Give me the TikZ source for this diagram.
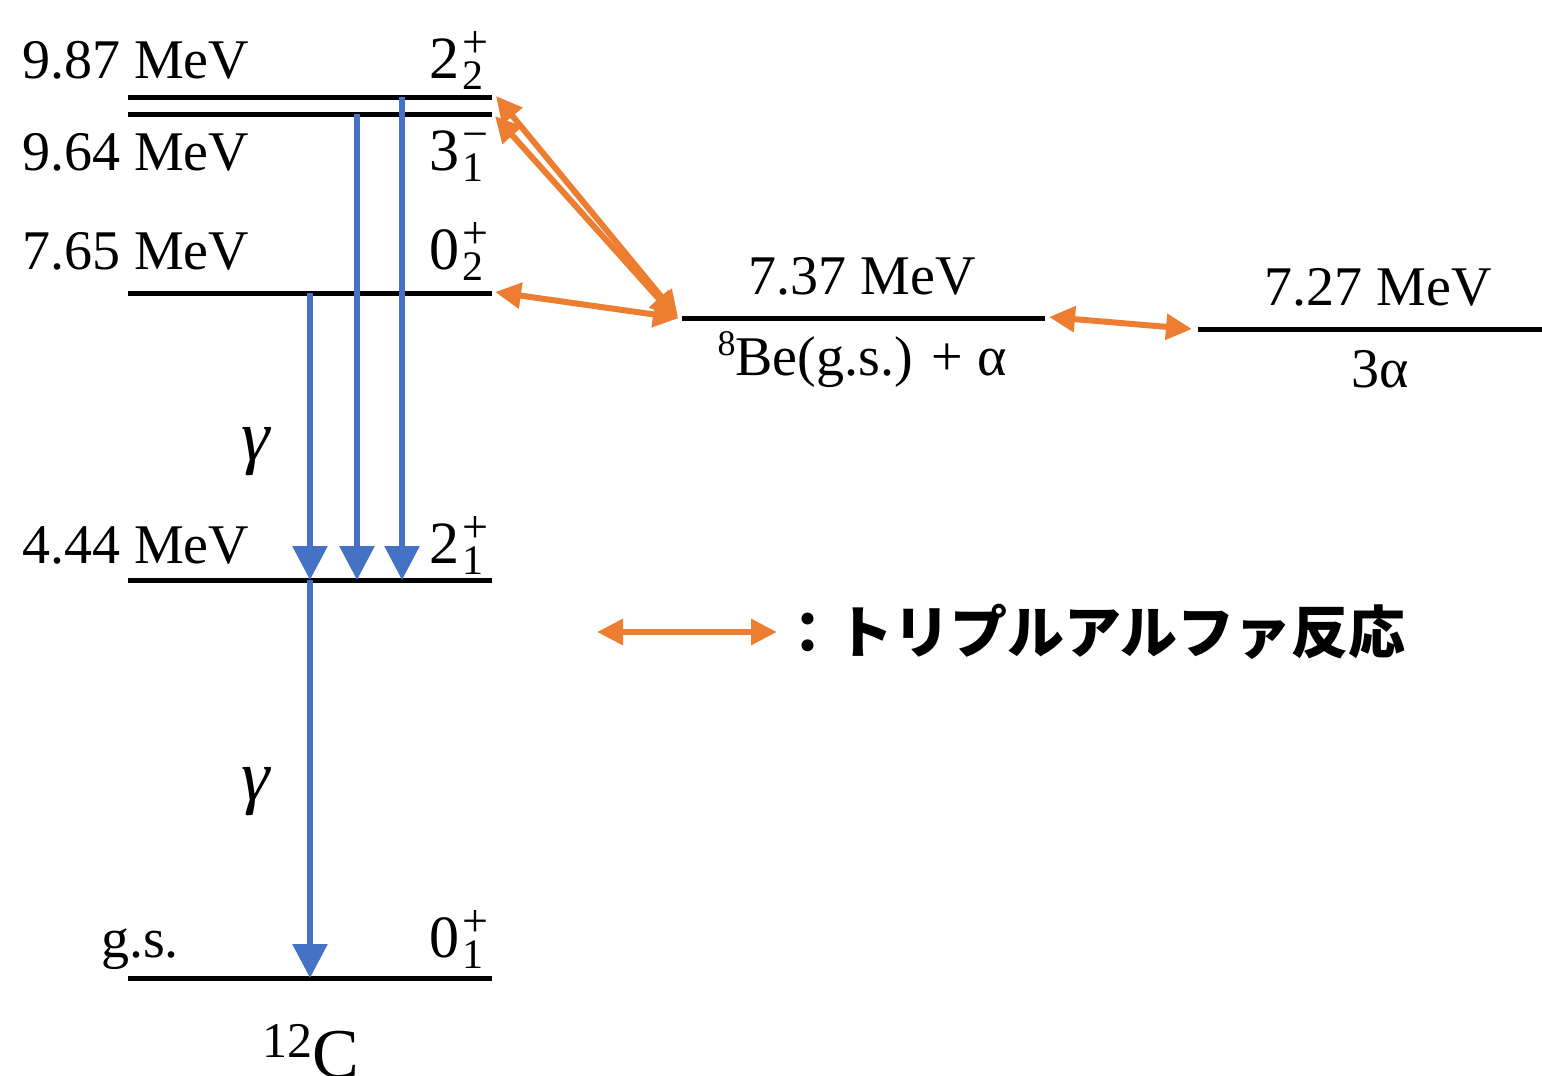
\documentclass[tikz,border=0pt]{standalone}
\usepackage{fontspec}
\setmainfont{Liberation Serif}
\newfontfamily\jpfont{Noto Sans CJK JP}
\usetikzlibrary{arrows.meta}
\definecolor{lvlblue}{HTML}{4472C4}
\definecolor{lvlorange}{HTML}{ED7D31}
\newcommand\spinlab[3]{\fontsize{60}{60}\selectfont #1\kern3pt\rlap{\raisebox{21pt}{\fontsize{46}{46}\selectfont #2}}\raisebox{-11pt}{\fontsize{42}{42}\selectfont #3}}
\begin{document}
\begin{tikzpicture}[x=1pt,y=-1pt,
  level/.style={line width=5pt},
  gam/.style={lvlblue,line width=6pt,-{Triangle[length=34pt,width=34pt]}},
  alf/.style={lvlorange,line width=6pt,{Triangle[length=26pt,width=25pt]}-{Triangle[length=26pt,width=25pt]}},
  lab/.style={font=\fontsize{56}{56}\selectfont, inner sep=0pt},
  spin/.style={inner sep=0pt, anchor=base west},
  gamlab/.style={font=\itshape\fontsize{72}{72}\selectfont, inner sep=0pt}
]
\useasboundingbox (0,0) rectangle (1542,1076);
% level coordinates
\coordinate (a) at (128,97);   \coordinate (aE) at (492,97);
\coordinate (b) at (128,114);  \coordinate (bE) at (492,114);
\coordinate (c) at (128,293);  \coordinate (cE) at (492,293);
\coordinate (d) at (128,580);  \coordinate (dE) at (492,580);
\coordinate (g) at (128,978);  \coordinate (gE) at (492,978);
\coordinate (be) at (682,318); \coordinate (beE) at (1045,318);
\coordinate (ta) at (1198,329); \coordinate (taE) at (1542,329);
\draw[level] (a) -- (aE);
\draw[level] (b) -- (bE);
\draw[level] (c) -- (cE);
\draw[level] (d) -- (dE);
\draw[level] (g) -- (gE);
\draw[level] (be) -- (beE);
\draw[level] (ta) -- (taE);
% energy labels
\node[lab, anchor=base west] (e1) at (22,78) {9.87 MeV};
\node[lab, anchor=base west] (e2) at (22,170) {9.64 MeV};
\node[lab, anchor=base west] (e3) at (22,269) {7.65 MeV};
\node[lab, anchor=base west] (e4) at (22,563) {4.44 MeV};
\node[lab, anchor=base west] (e5) at (101,957) {g.s.};
% spin labels
\node[spin] (s1) at (429,78) {\spinlab{2}{+}{2}};
\node[spin] (s2) at (429,170) {\spinlab{3}{−}{1}};
\node[spin] (s3) at (429,269) {\spinlab{0}{+}{2}};
\node[spin] (s4) at (429,563) {\spinlab{2}{+}{1}};
\node[spin] (s5) at (429,957) {\spinlab{0}{+}{1}};
% 12C
\node[inner sep=0pt, anchor=base west] (c12) at (262,1077) {\raisebox{20pt}{\fontsize{50}{50}\selectfont 12}\fontsize{70}{70}\selectfont C};
% gamma labels
\node[gamlab] (g1) at (256,452) {γ};
\node[gamlab] (g2) at (256,792) {γ};
% right side labels
\node[lab, anchor=base] (r1) at (862,294) {7.37 MeV};
\node[lab, anchor=base] (r2) at (862,375) {\raisebox{20pt}{\fontsize{36}{36}\selectfont 8}Be(g.s.) + α};
\node[lab, anchor=base] (r3) at (1378,305) {7.27 MeV};
\node[lab, anchor=base] (r4) at (1380,387) {3α};
% gamma transitions
\coordinate (t1) at (310,293); \coordinate (t1e) at (310,580);
\coordinate (t2) at (357,114); \coordinate (t2e) at (357,580);
\coordinate (t3) at (402,97);  \coordinate (t3e) at (402,580);
\coordinate (t4) at (310,580); \coordinate (t4e) at (310,978);
\draw[gam] (t1) -- (t1e);
\draw[gam] (t2) -- (t2e);
\draw[gam] (t3) -- (t3e);
\draw[gam] (t4) -- (t4e);
% triple alpha arrows
\coordinate (p1) at (496,96);  \coordinate (q1) at (678,317);
\coordinate (p2) at (495,116); \coordinate (q2) at (676,318);
\coordinate (p3) at (495,292); \coordinate (q3) at (679,318);
\coordinate (p4) at (1049,317); \coordinate (q4) at (1192,329);
\draw[alf] (p1) -- (q1);
\draw[alf] (p2) -- (q2);
\draw[alf] (p3) -- (q3);
\draw[alf] (p4) -- (q4);
% legend
\coordinate (l1) at (597,632); \coordinate (l2) at (777,632);
\draw[alf] (l1) -- (l2);
\node[inner sep=0pt, anchor=west, font=\jpfont\bfseries\fontsize{57}{57}\selectfont] (leg) at (779,632) {：トリプルアルファ反応};
\end{tikzpicture}
\end{document}
